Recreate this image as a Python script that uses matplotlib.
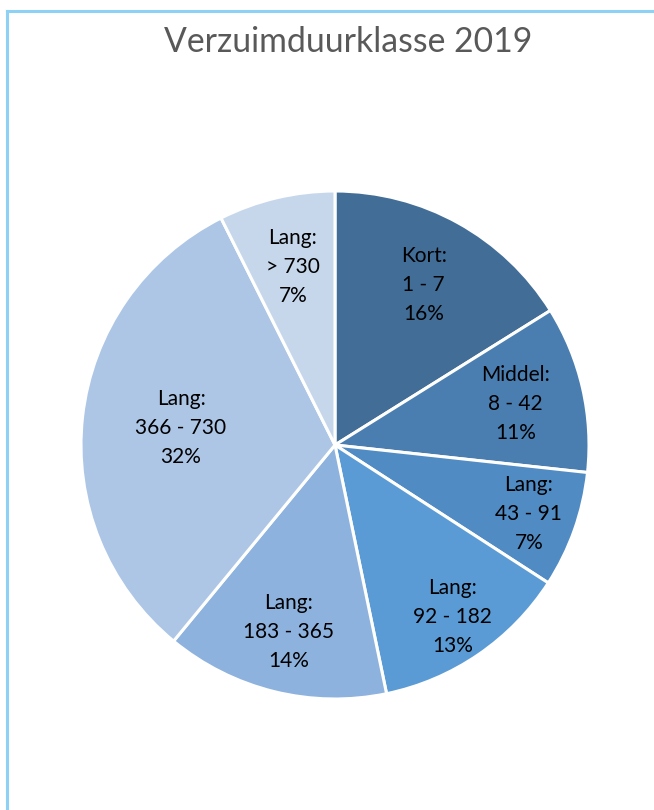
import matplotlib
matplotlib.use("Agg")
import matplotlib.pyplot as plt
import numpy as np
from matplotlib.lines import Line2D

klassen = ["Kort:", "Middel:", "Lang:", "Lang:", "Lang:", "Lang:", "Lang:"]
dagen = ["1 - 7", "8 - 42", "43 - 91", "92 - 182", "183 - 365", "366 - 730", "> 730"]
aandeel = [16.1, 10.6, 7.4, 12.6, 14.2, 31.6, 7.4]
kleuren = ["#416D97", "#4A7DB0", "#508BC4", "#5B9BD5", "#8EB2DE", "#ADC6E5", "#C6D7EC"]

# afstand van het label tot het middelpunt (fractie van de straal)
label_afstand = [0.72, 0.73, 0.81, 0.82, 0.76, 0.61, 0.72]

plt.rcParams["font.family"] = ["Lato", "DejaVu Sans"]

fig = plt.figure(figsize=(6.54, 8.10), dpi=100)

# pie axes: middelpunt (335, 445) px, straal 254 px
cx, cy, r = 335, 445, 254
W, H = 654, 810
ax = fig.add_axes([(cx - r) / W, (H - cy - r) / H, 2 * r / W, 2 * r / H])

wedges, _ = ax.pie(
    aandeel,
    colors=kleuren,
    startangle=90,
    counterclock=False,
    wedgeprops={"edgecolor": "white", "linewidth": 2.2},
)
ax.set_xlim(-1, 1)
ax.set_ylim(-1, 1)

for w, k, d, p, dist in zip(wedges, klassen, dagen, aandeel, label_afstand):
    mid = np.deg2rad((w.theta1 + w.theta2) / 2)
    ax.text(
        dist * np.cos(mid),
        dist * np.sin(mid),
        f"{k}\n{d}\n{p:.0f}%",
        ha="center",
        va="center",
        fontsize=15,
        color="black",
        linespacing=1.56,
    )

fig.text(348 / W, 1 - 42 / H, "Verzuimduurklasse 2019",
         ha="center", va="center", fontsize=24.3, color="#595959")

# lichtblauwe rand (links en boven)
rand = "#8DD1F5"
fig.add_artist(Line2D([7 / W, 7 / W], [0, 1 - 11 / H], transform=fig.transFigure,
                      color=rand, linewidth=2.2))
fig.add_artist(Line2D([7 / W, 1], [1 - 11 / H, 1 - 11 / H], transform=fig.transFigure,
                      color=rand, linewidth=2.2))

fig.savefig("out.png", dpi=100)
